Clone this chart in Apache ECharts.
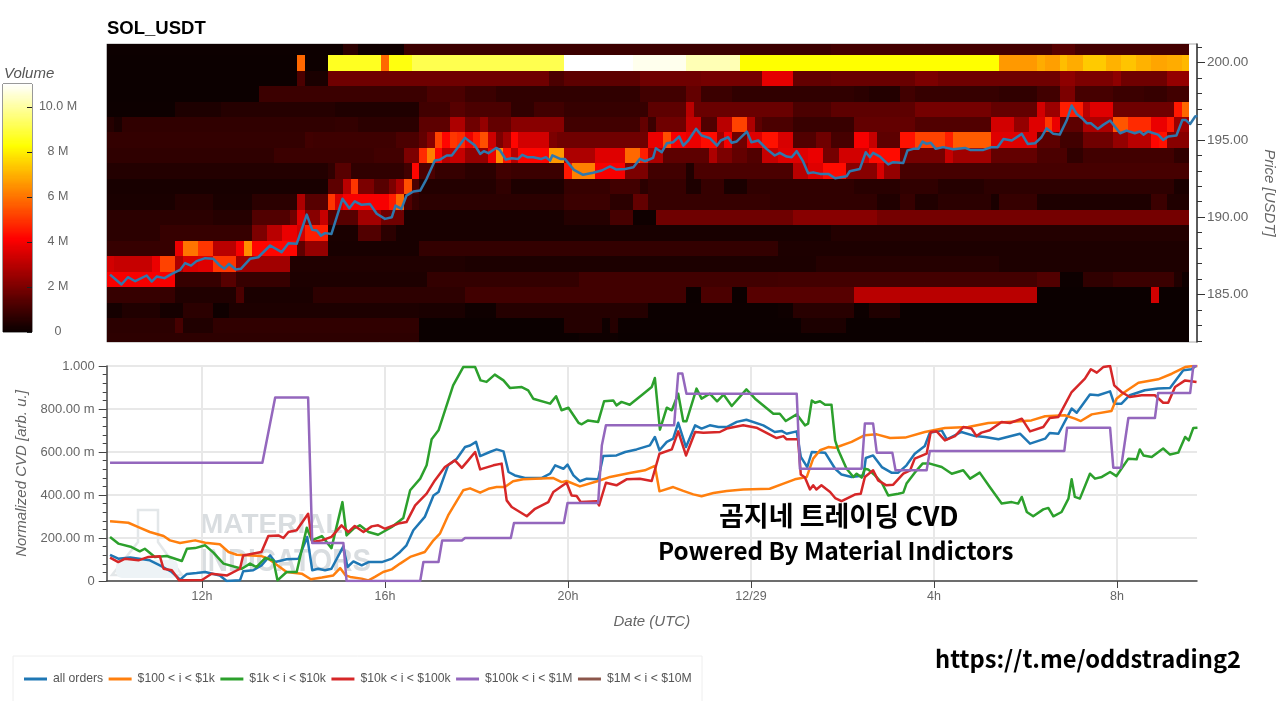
<!DOCTYPE html>
<html><head><meta charset="utf-8">
<style>html,body{margin:0;padding:0;background:#fff}#c{width:1280px;height:701px}</style>
<script src="https://cdn.jsdelivr.net/npm/echarts@6/dist/echarts.min.js"></script>
</head><body><div id="c"></div>
<script>
// Heatmap: per price level, [endColumn, volume in millions, ...]
const priceLevels=[201,200,199,198,197,196,195,194,193,192,191,190,189,188,187,186,185,184,183,182];
const firstColHour=10, colHours=1/6, colCount=142;
const r201=[31,.05,33,.6,39,.1,95,.9,124,1.05,127,1.4,142,1.05];
const r200=[25,.03,26,5.8,29,.05,36,8.6,37,5.8,40,8.4,60,9.1,69,11,76,10.8,83,10.2,117,8.25,122,6.6,123,6.9,125,6.7,126,7.2,128,6.9,131,7.4,133,7.0,135,7.3,137,7.0,139,6.8,141,6.9,142,7.1];
const r199=[25,.03,26,1.2,29,.3,58,1.8,60,1.2,70,1.5,78,1.8,86,1.9,90,3.7,95,1.6,106,1.7,109,2.0,125,1.8,127,2.3,132,2,133,2.3,139,1.8,142,2.4];
const r198=[20,.04,42,.9,47,1.2,51,.9,70,.7,76,1.0,78,1.6,82,.9,98,.7,100,.6,104,.45,106,1.0,117,.8,122,.7,125,1.0,127,2.0,132,1.1,136,.9,139,.8,142,1.0];
const r197=[9,.05,15,.35,30,.5,41,.38,45,1.0,47,1.4,53,1.2,56,.7,60,1.0,71,.8,76,1.5,77,3.0,90,1.7,95,1.2,106,1.5,116,1.9,122,1.6,123,3.4,125,2.5,128,4.6,129,3.0,132,3.6,140,1.8,141,4.5,142,5.8];
const r196=[1,.5,2,.3,30,.7,33,.75,41,.6,45,1.5,47,2.8,49,1.8,50,2.4,53,1.6,60,2.2,70,1.0,71,1.6,72,.9,76,1.8,78,3.2,80,1.3,82,3.0,84,5.2,85,2.8,86,1.5,90,1.2,98,.85,106,1.6,116,1.3,119,3.4,121,2.4,123,3.6,124,5.0,125,3.8,128,1.5,132,2.8,134,5.5,137,4.8,139,3.8,140,4.5,142,2.5];
const r195=[26,.75,27,1.0,38,.95,41,1.2,42,1.6,43,2.2,44,5.2,45,4.2,46,5.0,47,4.8,48,3.8,49,4.6,50,5.4,51,3.3,52,2.0,53,2.6,54,4.2,58,3.4,59,2.0,71,1.8,73,3.8,74,5.4,76,4.0,78,3.8,80,4.3,81,2.6,82,4.0,84,1.8,86,3.6,88,4.4,90,3.5,93,1.3,95,1.8,98,1.1,100,4.0,101,3.2,104,1.5,106,4.4,110,5.2,111,4.6,116,5.6,119,3.6,122,3.6,125,1.5,128,1.0,132,1.8,134,2.4,137,3.0,138,4.2,139,4.4,142,2.2];
const r194=[22,.68,35,.9,39,1.0,41,2.0,42,4.8,43,6.2,44,4.2,45,3.0,47,3.2,50,2.4,51,3.8,52,6.4,53,4.4,54,3.0,58,4.2,60,6.6,64,2.8,68,3.6,70,5.8,71,4.6,73,2.8,79,1.5,80,2.8,82,2.0,84,1.6,86,1.3,88,3.2,92,3.6,94,3.8,96,1.9,100,3.4,104,4.3,110,1.9,111,3.2,116,2.6,122,1.6,126,1.2,128,.7,140,1.0,142,.7];
const r193=[29,.45,30,.7,32,1.4,39,.7,40,1.0,41,4.2,43,1.2,47,.8,51,.6,53,1.0,60,.9,61,4.5,64,6.2,68,4.0,71,2.0,76,1.0,77,.4,90,1.2,92,3.0,94,3.6,97,4.3,101,2.2,102,3.5,104,2.4,142,1.1];
const r192=[29,.25,31,1.5,32,3.0,33,5.0,35,2.0,37,1.4,38,2.0,39,2.8,40,5.4,41,1.2,51,.45,53,.7,60,.35,66,.8,70,1.0,71,.6,76,.8,78,.35,81,.8,84,.3,98,.7,104,.55,109,.7,115,.5,140,.65,142,.3];
const r191=[9,.3,14,.5,19,.3,25,.6,26,2.8,29,1.4,30,5.0,31,3.5,37,4.0,38,4.6,39,5.8,40,1.3,41,.8,60,.6,66,.9,69,.6,71,1.6,87,.8,101,.7,104,.4,106,.8,109,.4,116,.6,117,.3,122,.8,137,.35,139,.9,142,.4];
const r190=[14,.6,19,.5,24,1.3,25,1.8,26,3.6,28,2.2,29,3.2,33,1.4,36,2.6,39,1.8,60,.25,66,.5,69,1.1,72,.1,90,1.8,101,2.2,142,1.9];
const r189=[7,.6,19,.8,21,2.0,23,3.0,25,3.8,26,3.4,29,4.6,33,.3,36,1.3,38,.6,95,.25,142,.45];
const r188=[9,.8,10,3.8,12,6.0,14,5.0,17,3.0,18,4.0,19,6.4,25,4.2,26,1.5,29,2.4,41,.25,88,.75,142,.35];
const r187=[1,3.4,6,3.2,7,3.8,9,5.2,10,2.8,12,3.5,14,3.6,17,5.0,24,2.6,47,.4,93,.33,117,.5,142,.35];
const r186=[9,4.0,15,.8,17,1.4,24,.8,42,.35,62,.75,88,1.0,122,1.05,125,1.3,128,.05,132,.7,140,.9,141,.4,142,.1];
const r185=[9,.8,17,.4,18,1.2,27,.3,47,.65,76,1.0,78,.02,82,1.2,84,.02,98,1.4,122,3.0,137,.02,138,3.4,142,.02];
const r184=[2,.2,7,.4,10,.2,14,.6,16,.1,41,.35,47,.3,51,.1,71,.5,88,.03,90,.1,98,.55,100,.05,104,.4,142,.02];
const r183=[9,.6,10,1.1,14,.4,41,.7,60,.02,65,.5,66,.1,67,.5,91,.04,97,.33,142,.02];
const r182=[41,.65,62,.02,67,.1,142,.02];
const heatRows=[r201,r200,r199,r198,r197,r196,r195,r194,r193,r192,r191,r190,r189,r188,r187,r186,r185,r184,r183,r182];

// Lines: flat [hour since 12/28 00:00, value, ...]
const priceLine=[9.99,186.29,10.24,185.65,10.38,186.12,10.54,185.86,10.79,186.23,10.90,185.84,11.01,186.16,11.18,186.06,11.34,186.34,11.52,186.59,11.63,187.03,11.76,186.87,11.88,187.16,12.07,187.35,12.25,187.31,12.39,186.87,12.49,186.66,12.59,186.98,12.74,186.62,12.85,186.66,13.05,187.31,13.23,187.41,13.49,188.17,13.74,187.74,13.89,188.32,14.07,188.28,14.29,190.17,14.41,189.18,14.51,189.14,14.60,188.81,14.69,188.97,14.83,188.92,15.07,191.19,15.22,190.58,15.34,191.03,15.49,190.80,15.67,190.86,15.82,190.22,16.00,189.89,16.15,190.0,16.23,190.75,16.36,190.54,16.47,191.4,16.62,191.66,16.77,191.72,16.91,192.48,17.09,193.66,17.20,193.72,17.35,193.99,17.46,193.99,17.75,195.13,17.86,194.88,17.97,194.63,18.08,194.09,18.16,194.27,18.26,194.14,18.43,194.48,18.51,194.35,18.64,193.73,18.77,193.81,18.91,193.77,19.0,194.03,19.11,193.88,19.24,193.88,19.42,193.77,19.52,193.88,19.61,193.66,19.66,194.0,19.83,193.77,19.93,193.77,20.13,193.06,20.33,192.74,20.55,192.87,20.74,193.02,20.92,193.28,21.06,193.08,21.25,193.12,21.43,193.23,21.57,193.77,21.68,193.62,21.86,193.84,21.92,194.46,22.05,194.2,22.16,194.78,22.30,194.85,22.43,195.22,22.52,194.63,22.63,194.96,22.80,195.71,22.92,195.28,23.10,195.11,23.26,194.63,23.34,194.96,23.50,195.17,23.58,194.81,23.69,194.9,23.91,195.54,24.01,194.85,24.16,194.96,24.34,194.42,24.52,193.99,24.63,194.16,24.78,193.92,24.89,193.88,25.0,194.27,25.13,193.66,25.25,192.84,25.36,192.9,25.51,192.8,25.69,192.8,25.84,192.52,26.09,192.65,26.16,192.97,26.38,193.12,26.51,194.2,26.60,193.88,26.67,194.16,26.82,193.92,27.0,193.41,27.11,193.56,27.33,193.51,27.42,194.31,27.55,194.42,27.66,194.42,27.75,194.89,27.84,194.74,27.93,194.81,28.04,194.42,28.20,194.53,28.42,194.4,28.68,194.48,28.79,194.35,29.08,194.35,29.26,194.53,29.39,194.53,29.52,195.06,29.70,194.96,29.92,195.39,30.05,194.74,30.21,194.78,30.35,195.17,30.46,195.75,30.61,195.39,30.75,195.34,30.90,196.25,31.01,197.22,31.12,196.68,31.23,196.42,31.34,196.08,31.43,196.08,31.58,195.71,31.70,195.97,31.85,196.25,32.07,195.43,32.21,195.6,32.39,195.43,32.50,195.54,32.58,195.34,32.68,195.54,32.90,195.34,33.01,195.0,33.12,195.22,33.30,195.28,33.43,196.29,33.50,196.29,33.60,196.03,33.71,196.51,33.76,196.55];
const cvdAll=[9.99,.122,10.17,.104,10.43,.109,10.86,.096,11.08,.073,11.34,.042,11.52,.006,11.67,.033,11.88,.037,12.07,.042,12.39,.026,12.54,0,12.83,.003,12.90,.045,13.12,.05,13.30,.073,13.49,.119,13.60,.088,13.85,.101,14.11,.104,14.30,.205,14.41,.05,14.54,.057,14.69,.05,14.83,.057,15.09,.161,15.18,.065,15.31,.091,15.49,.073,15.64,.088,15.93,.088,16.15,.104,16.33,.135,16.47,.166,16.62,.236,16.87,.298,17.06,.398,17.17,.414,17.38,.538,17.57,.569,17.75,.623,17.86,.63,17.99,.647,18.08,.581,18.29,.6,18.44,.612,18.59,.603,18.70,.507,18.84,.491,19.06,.479,19.42,.479,19.61,.499,19.72,.538,19.90,.522,19.99,.541,20.12,.491,20.26,.464,20.41,.476,20.66,.473,20.77,.581,21.06,.584,21.25,.6,21.50,.612,21.79,.631,21.90,.67,22.0,.608,22.16,.647,22.30,.662,22.41,.736,22.58,.623,22.78,.724,22.92,.709,23.10,.724,23.29,.716,23.47,.716,23.69,.74,23.90,.75,24.27,.724,24.52,.693,24.67,.698,24.78,.685,25.0,.696,25.09,.577,25.23,.53,25.33,.6,25.62,.597,25.84,.522,25.98,.495,26.20,.484,26.46,.491,26.51,.572,26.67,.584,26.86,.53,27.07,.504,27.22,.504,27.40,.538,27.58,.592,27.80,.628,27.91,.69,28.17,.701,28.28,.659,28.60,.693,28.90,.674,29.12,.67,29.41,.659,29.88,.685,30.10,.639,30.43,.662,30.53,.688,30.72,.685,31.01,.802,31.12,.783,31.41,.867,31.59,.864,31.85,.882,31.94,.825,32.10,.825,32.28,.864,32.61,.887,32.90,.895,33.16,.898,33.45,.98,33.63,.985,33.72,1.0];
const cvd100to1k=[9.99,.278,10.39,.271,10.61,.251,10.86,.228,11.16,.209,11.30,.189,11.52,.177,11.85,.189,12.07,.178,12.39,.171,12.58,.135,12.76,.122,13.30,.116,13.45,.104,13.67,.07,13.85,.042,14.18,.034,14.38,.008,14.62,.016,14.87,.026,15.02,.06,15.14,.026,15.24,.019,15.49,.011,15.64,.003,15.78,.019,15.96,.042,16.15,.054,16.33,.081,16.55,.112,16.87,.135,17.06,.189,17.20,.22,17.38,.305,17.60,.383,17.71,.422,17.86,.431,18.08,.411,18.26,.429,18.44,.437,18.62,.437,18.80,.464,19.02,.473,19.68,.479,19.86,.46,19.97,.465,20.26,.44,20.66,.465,20.92,.484,21.35,.502,21.68,.515,21.90,.535,22.0,.417,22.30,.437,22.52,.419,22.74,.403,22.92,.394,23.18,.409,23.47,.419,23.83,.426,24.41,.429,24.71,.453,24.96,.473,25.22,.484,25.36,.569,25.51,.608,25.69,.623,25.84,.62,26.20,.647,26.49,.678,26.75,.682,27.04,.665,27.37,.667,27.80,.693,28.24,.712,28.75,.716,29.19,.735,29.62,.74,30.13,.747,30.43,.766,30.86,.771,31.08,.755,31.21,.744,31.45,.775,31.88,.791,31.99,.848,32.17,.879,32.47,.922,32.90,.938,33.20,.964,33.49,.995,33.67,1.0,33.76,1.0];
const cvd1kto10k=[9.99,.205,10.17,.174,10.46,.158,10.64,.138,10.75,.15,10.97,.112,11.23,.116,11.56,.093,11.67,.15,11.85,.153,12.07,.166,12.25,.132,12.47,.081,12.87,.057,13.05,.081,13.19,.065,13.38,.107,13.56,.096,13.65,.003,13.85,.042,14.07,.042,14.29,.248,14.40,.189,14.62,.209,14.83,.153,15.07,.367,15.16,.212,15.31,.243,15.45,.259,15.64,.228,15.85,.215,16.15,.251,16.40,.293,16.55,.422,16.77,.476,16.91,.538,17.02,.659,17.17,.701,17.49,.91,17.71,.995,17.97,.995,18.09,.933,18.22,.926,18.40,.96,18.59,.933,18.73,.898,18.99,.902,19.13,.887,19.24,.848,19.61,.825,19.74,.859,19.86,.794,20.01,.806,20.23,.736,20.30,.729,20.44,.747,20.66,.74,20.79,.836,20.99,.84,21.06,.817,21.17,.833,21.35,.82,21.65,.871,21.83,.902,21.90,.944,22.01,.704,22.16,.806,22.27,.794,22.41,.871,22.52,.743,22.59,.743,22.81,.895,22.92,.848,23.10,.871,23.26,.836,23.40,.867,23.58,.814,23.90,.891,24.09,.848,24.49,.778,24.63,.778,24.76,.744,25.0,.775,25.18,.724,25.25,.732,25.33,.84,25.40,.829,25.51,.836,25.62,.82,25.76,.82,25.84,.654,25.91,.608,26.09,.522,26.24,.484,26.31,.499,26.42,.481,26.49,.522,26.56,.519,26.71,.491,26.86,.457,27.0,.398,27.22,.406,27.33,.411,27.40,.453,27.58,.504,27.75,.546,27.91,.546,28.17,.53,28.39,.499,28.64,.515,28.79,.476,29.0,.504,29.22,.437,29.48,.36,29.70,.367,29.84,.36,29.92,.391,30.03,.321,30.17,.301,30.39,.333,30.50,.34,30.61,.301,30.79,.321,30.94,.383,31.01,.473,31.08,.391,31.19,.383,31.41,.499,31.52,.476,31.67,.484,31.85,.507,31.99,.488,32.25,.569,32.43,.566,32.50,.612,32.58,.584,32.76,.577,33.01,.616,33.16,.588,33.34,.597,33.49,.67,33.57,.654,33.67,.712,33.76,.713];
const cvd10kto100k=[9.99,.109,10.17,.088,10.32,.104,10.61,.096,10.83,.112,11.08,.115,11.16,.057,11.34,.05,11.50,.003,12.0,.005,12.21,.034,12.55,.026,12.83,.057,12.90,.119,13.30,.135,13.45,.209,13.67,.212,13.78,.2,13.89,.228,14.07,.236,14.32,.313,14.41,.181,14.62,.189,14.83,.205,15.05,.259,15.20,.228,15.34,.256,15.53,.228,15.71,.254,15.85,.259,16.0,.243,16.29,.267,16.47,.274,16.66,.352,16.91,.406,17.09,.468,17.31,.53,17.53,.561,17.68,.526,17.82,.561,17.97,.6,18.08,.519,18.37,.538,18.55,.546,18.66,.375,18.77,.344,19.10,.301,19.28,.336,19.57,.367,19.68,.414,19.97,.457,20.08,.398,20.19,.395,20.28,.367,20.63,.371,20.68,.352,20.83,.457,21.06,.445,21.28,.473,21.57,.476,21.83,.465,22.0,.592,22.27,.612,22.41,.696,22.58,.584,22.78,.693,22.96,.69,23.32,.693,23.47,.709,23.83,.724,24.12,.713,24.56,.665,24.71,.674,24.78,.659,25.03,.659,25.09,.495,25.18,.481,25.29,.426,25.36,.445,25.43,.426,25.54,.445,25.73,.414,25.84,.386,25.98,.371,26.27,.402,26.40,.406,26.49,.484,26.67,.515,26.78,.468,26.96,.445,27.11,.448,27.33,.499,27.48,.515,27.58,.569,27.84,.592,27.93,.693,28.06,.696,28.24,.654,28.46,.674,28.64,.716,28.82,.709,28.93,.674,29.04,.69,29.22,.701,29.48,.74,29.66,.735,29.92,.755,30.10,.696,30.39,.716,30.53,.758,30.72,.763,31.01,.879,31.30,.941,31.43,.985,31.56,.969,31.70,.995,31.85,1.0,31.94,.91,32.10,.879,32.28,.856,32.54,.864,32.83,.864,33.01,.829,33.12,.829,33.27,.902,33.49,.933,33.74,.926];
const cvd100kto1m=[9.99,.55,13.32,.55,13.60,.853,14.32,.853,14.41,.177,15.09,.177,15.16,0,16.77,0,16.84,.088,17.17,.088,17.25,.188,17.68,.188,17.75,.2,18.75,.2,18.82,.27,19.91,.27,19.99,.363,20.66,.363,20.74,.63,20.83,.724,22.32,.724,22.41,.965,22.50,.965,22.59,.871,25.0,.871,25.07,.522,26.42,.522,26.49,.732,26.67,.732,26.75,.597,27.09,.597,27.16,.515,27.84,.515,27.91,.605,30.85,.605,30.91,.713,31.85,.713,31.92,.527,32.09,.527,32.25,.758,32.83,.758,32.90,.874,33.60,.874,33.67,1.0,33.75,1.0];
const cvd1mto10m=[];

const seriesNames=['all orders','$100 < i < $1k','$1k < i < $10k','$10k < i < $100k','$100k < i < $1M','$1M < i < $10M'];
const seriesColors=['#1f77b4','#ff7f0e','#2ca02c','#d62728','#9467bd','#8c564b'];
const cvdValues=[cvdAll,cvd100to1k,cvd1kto10k,cvd10kto100k,cvd100kto1m,cvd1mto10m];
const xTicks=[12,16,20,24,28,32];
const xTickLabels={12:'12h',16:'16h',20:'20h',24:'12/29',28:'4h',32:'8h'};
const priceTicks=[185,190,195,200];
const priceMinorTicks=[182,183,184,185,186,187,188,189,190,191,192,193,194,195,196,197,198,199,200,201];
const volumeTicks=[0,2,4,6,8,10];
const hotColors=['#0a0000','#550000','#aa0000','#ff0000','#ff5500','#ffaa00','#ffff00','#ffff80','#ffffff'];
const VOL_MAX=11;

const pairs=f=>{const o=[];for(let i=0;i<f.length;i+=2)o.push([f[i],f[i+1]]);return o;};
const heatData=[];
heatRows.forEach((row,k)=>{let c=0;for(let i=0;i<row.length;i+=2){for(;c<row[i];c++){heatData.push([firstColHour+c*colHours,priceLevels[k],row[i+1]]);}}});
const barLevels=[];for(let i=0;i<220;i++)barLevels.push([0,(i+.5)*VOL_MAX/220,(i+.5)*VOL_MAX/220]);

function renderCell(params,api){
  const t=api.value(0),p=api.value(1);
  const a=api.coord([t-colHours/2,p+0.48]),b=api.coord([t+colHours/2,p-0.52]);
  const cs=params.coordSys;
  const x0=Math.round(a[0]),x1=Math.round(b[0]),y0=Math.round(a[1]),y1=Math.round(b[1]);
  const shape=echarts.graphic.clipRectByRect({x:x0,y:y0,width:x1-x0,height:y1-y0},{x:cs.x,y:cs.y,width:cs.width,height:cs.height});
  return shape&&{type:'rect',shape,style:{fill:api.visual('color')}};
}
function renderBar(params,api){
  const v=api.value(1),cs=params.coordSys;
  const y0=Math.round(api.coord([0,v+VOL_MAX/440])[1]),y1=Math.round(api.coord([0,v-VOL_MAX/440])[1]);
  return {type:'rect',shape:{x:cs.x,y:y0,width:cs.width,height:y1-y0},style:{fill:api.visual('color')}};
}
function renderBarTick(params,api){
  const cs=params.coordSys,y=Math.round(api.coord([0,api.value(1)])[1])+.5,xr=cs.x+cs.width;
  return {type:'line',shape:{x1:xr-5,y1:y,x2:xr,y2:y},style:{stroke:'#222',lineWidth:1}};
}
const G='#444',LAB='#666';
const chart=echarts.init(document.getElementById('c'),null,{renderer:'canvas',width:1280,height:701});
const xMin=9.917,xMax=33.75;
chart.setOption({
  animation:false,backgroundColor:'#fff',
  title:{text:'SOL_USDT',left:107,top:19,padding:0,textStyle:{fontFamily:'Liberation Sans',fontSize:18.5,fontWeight:'bold',color:'#000'}},
  grid:[
    {left:106.7,right:83,top:44,height:298,show:true,borderColor:'#aaa',borderWidth:1,backgroundColor:'#fff',outerBoundsMode:'none'},
    {left:106.7,right:83,top:366,height:215,outerBoundsMode:'none'},
    {left:3,right:1248,top:84,height:248,show:true,borderColor:'#333',borderWidth:1,outerBoundsMode:'none'}
  ],
  xAxis:[
    {gridIndex:0,type:'value',min:xMin,max:xMax,show:false},
    {gridIndex:1,type:'value',min:xMin,max:xMax,
      axisLine:{lineStyle:{color:G,width:1.5}},
      axisTick:{customValues:xTicks,length:7,lineStyle:{color:G}},
      axisLabel:{customValues:xTicks,formatter:v=>xTickLabels[v]||'',color:LAB,fontSize:12.5,fontFamily:'Liberation Sans',margin:9},
      splitLine:{show:true,lineStyle:{color:'#e8e8e8',width:2}},
      name:'Date (UTC)',nameLocation:'middle',nameGap:33,nameTextStyle:{fontStyle:'italic',fontSize:15,color:LAB,fontFamily:'Liberation Sans'}},
    {gridIndex:2,type:'value',min:0,max:1,show:false}
  ],
  yAxis:[
    {gridIndex:0,type:'value',min:181.93,max:201.2,position:'right',
      axisLine:{show:true,onZero:false,lineStyle:{color:'#333',width:1.5}},
      axisTick:{show:true,customValues:priceTicks,length:8,lineStyle:{color:'#333'}},
      axisLabel:{customValues:priceTicks,formatter:v=>v.toFixed(2),color:LAB,fontSize:13.5,fontFamily:'Liberation Sans',margin:10},
      splitLine:{show:false},
      name:'Price [USDT]',nameLocation:'middle',nameRotate:-90,nameGap:65,nameTextStyle:{fontStyle:'italic',fontSize:15,color:LAB,fontFamily:'Liberation Sans'}},
    {gridIndex:0,type:'value',min:181.93,max:201.2,position:'right',
      axisLine:{show:false},
      axisTick:{show:true,customValues:priceMinorTicks,length:5,lineStyle:{color:'#333'}},
      axisLabel:{show:false},splitLine:{show:false}},
    {gridIndex:1,type:'value',min:0,max:1,interval:.2,
      axisLine:{show:true,onZero:false,lineStyle:{color:G,width:1.5}},
      axisTick:{show:true,length:8,lineStyle:{color:G}},
      minorTick:{show:true,splitNumber:5,length:4,lineStyle:{color:G}},
      axisLabel:{formatter:v=>v===0?'0':v>=1?'1.000':Math.round(v*1000)+'.00 m',color:LAB,fontSize:13,fontFamily:'Liberation Sans',margin:12},
      splitLine:{show:true,lineStyle:{color:'#e8e8e8',width:2}},
      name:'Normalized CVD [arb. u.]',nameLocation:'middle',nameRotate:90,nameGap:70,nameTextStyle:{fontStyle:'italic',fontSize:15,color:LAB,fontFamily:'Liberation Sans'}},
    {gridIndex:2,type:'value',min:0,max:VOL_MAX,position:'right',
      axisLine:{show:false},
      axisTick:{show:false},
      axisLabel:{customValues:volumeTicks,align:'center',margin:26,color:LAB,fontSize:12.5,fontFamily:'Liberation Sans',
        formatter:v=>v===0?'0':v===10?'10.0 M':v+' M',hideOverlap:false},
      splitLine:{show:false}}
  ],
  visualMap:[{type:'continuous',show:false,min:0,max:VOL_MAX,dimension:2,seriesIndex:[0,8],inRange:{color:hotColors}}],
  legend:{left:24,top:673,itemWidth:23,itemHeight:3,itemGap:5.5,icon:'rect',padding:0,data:seriesNames,
    textStyle:{fontSize:12.2,color:'#555',fontFamily:'Liberation Sans',padding:[0,0,0,1]}},
  series:[
    {name:'heat',type:'custom',coordinateSystem:'cartesian2d',xAxisIndex:0,yAxisIndex:0,data:heatData,renderItem:renderCell,encode:{x:0,y:1},silent:true,z:1},
    {name:'price',type:'line',xAxisIndex:0,yAxisIndex:0,data:pairs(priceLine),symbol:'none',lineStyle:{color:'#2f78ad',width:2.5,join:'round'},z:3,clip:false},
    {type:'custom',name:'minorAxis',coordinateSystem:'cartesian2d',xAxisIndex:0,yAxisIndex:1,data:[],renderItem:()=>null},
    ...seriesNames.slice(0,5).map((n,i)=>({name:n,type:'line',xAxisIndex:1,yAxisIndex:2,data:pairs(cvdValues[i]),symbol:'none',
      itemStyle:{color:seriesColors[i]},lineStyle:{color:seriesColors[i],width:2.5,join:'round'},z:3+i})),
    {name:'colorbar',type:'custom',coordinateSystem:'cartesian2d',xAxisIndex:2,yAxisIndex:3,data:barLevels,renderItem:renderBar,encode:{x:0,y:1},silent:true,z:1},
    {name:seriesNames[5],type:'line',xAxisIndex:1,yAxisIndex:2,data:pairs(cvd1mto10m),symbol:'none',itemStyle:{color:seriesColors[5]},lineStyle:{color:seriesColors[5],width:2.5},z:8},
    {name:'colorbarTicks',type:'custom',coordinateSystem:'cartesian2d',xAxisIndex:2,yAxisIndex:3,data:volumeTicks.map(v=>[0,v]),renderItem:renderBarTick,encode:{x:0,y:1},silent:true,z:2}
  ],
  graphic:[
    {type:'polygon',z:0,shape:{points:[[138,510],[158,510],[158,542],[182,575],[112,575],[138,542]]},style:{fill:'none',stroke:'#e3e7e9',lineWidth:2.5}},
    {type:'rect',z:0,shape:{x:116,y:560,width:62,height:18,r:6},style:{fill:'#edf3f6'}},
    {type:'text',z:0,x:200,y:511,style:{text:'MATERIAL',font:'bold 28px "Liberation Sans"',fill:'#d9dde0'}},
    {type:'text',z:0,x:200,y:547,scaleX:.9,style:{text:'INDICATORS',font:'bold 31px "Liberation Sans"',fill:'#d9dde0'}},
    {type:'text',left:4,top:66,style:{text:'Volume',font:'italic 15px "Liberation Sans"',fill:'#555'}},
    {type:'rect',z:0,shape:{x:13,y:656,width:689,height:50},style:{fill:'#fff',stroke:'#eeeeee',lineWidth:1}},
    {type:'text',z:20,left:719,top:502,style:{text:'곰지네 트레이딩 CVD',font:'bold 27px "Noto Sans CJK KR"',fill:'#000'}},
    {type:'text',z:20,left:658,top:539,style:{text:'Powered By Material Indictors',font:'bold 24.2px "Noto Sans CJK KR"',fill:'#000'}},
    {type:'text',z:20,left:935,top:647,style:{text:'https://t.me/oddstrading2',font:'bold 23.7px "Noto Sans CJK KR"',fill:'#000'}}
  ]
});
</script></body></html>
